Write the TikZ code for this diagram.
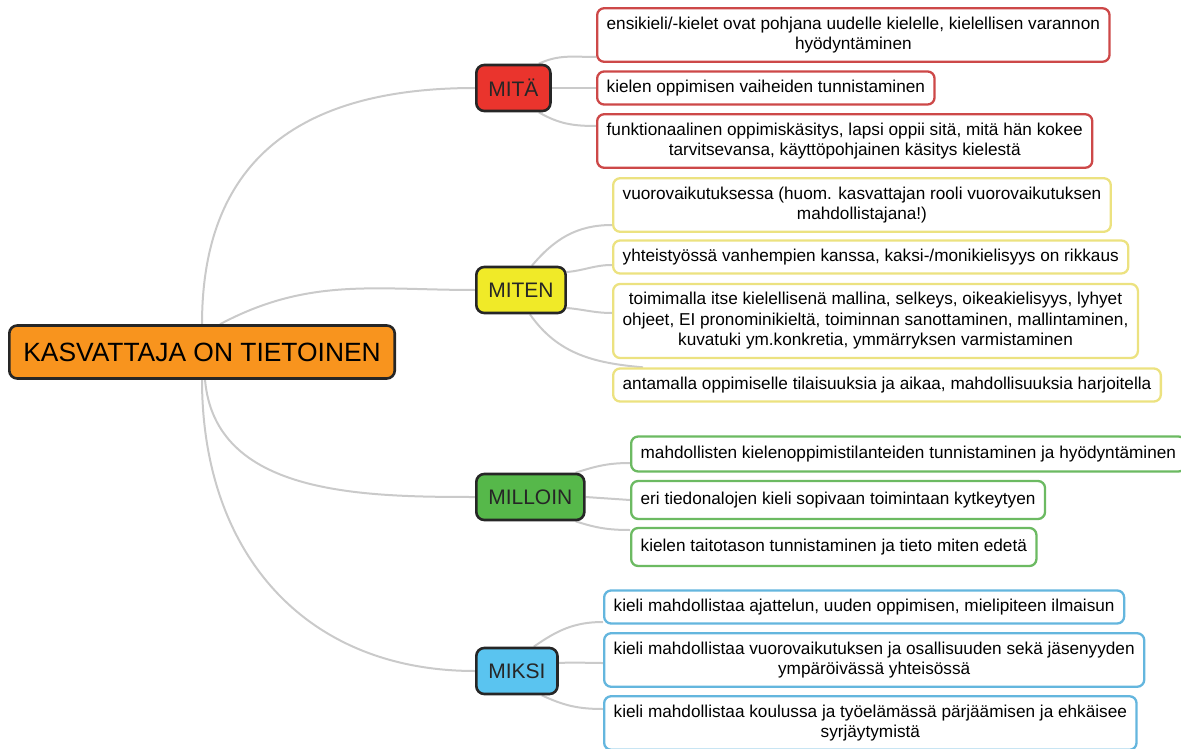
\documentclass[tikz,border=0pt]{standalone}
\usepackage{fontspec}
\setmainfont{Liberation Sans}
\usetikzlibrary{backgrounds}
\definecolor{kvorange}{RGB}{248,148,30}
\definecolor{kvred}{RGB}{234,52,45}
\definecolor{kvyellow}{RGB}{240,234,40}
\definecolor{kvgreen}{RGB}{86,184,74}
\definecolor{kvblue}{RGB}{90,196,240}
\definecolor{kvredline}{RGB}{205,72,72}
\definecolor{kvyellowline}{RGB}{236,226,128}
\definecolor{kvgreenline}{RGB}{108,186,98}
\definecolor{kvblueline}{RGB}{100,182,222}
\definecolor{kvgrey}{RGB}{202,202,202}
\tikzset{
  rootbox/.style={rectangle, rounded corners=8pt, draw=black!85, line width=2.6pt,
    fill=kvorange, minimum height=53pt, inner xsep=14pt, anchor=west,
    font=\fontsize{26.4}{30}\selectfont},
  branchbox/.style={rectangle, rounded corners=8pt, draw=black!85, line width=2.6pt,
    fill=#1, minimum height=46pt, inner xsep=12pt, anchor=west, text=black!85,
    font=\fontsize{21}{25}\selectfont},
  leafbox/.style={rectangle, rounded corners=7pt, draw=#1, line width=2.3pt,
    fill=white, inner xsep=9.5pt, inner ysep=8.5pt, align=center, anchor=west,
    font=\fontsize{17.2}{20.5}\selectfont},
  twig/.style={draw=kvgrey, line width=2pt}
}
\begin{document}
\begin{tikzpicture}[x=1pt, y=1pt]
  \useasboundingbox (0,0) rectangle (1181,-749);
  \node[rootbox] (root) at (8,-352) {KASVATTAJA ON TIETOINEN};
  \node[branchbox=kvred] (mita) at (475,-88) {MITÄ};
  \node[branchbox=kvyellow] (miten) at (475,-290) {MITEN};
  \node[branchbox=kvgreen] (milloin) at (475,-497) {MILLOIN};
  \node[branchbox=kvblue] (miksi) at (475,-671) {MIKSI};

  \node[leafbox=kvredline] (r1) at (596,-35) {ensikieli/-kielet ovat pohjana uudelle kielelle, kielellisen varannon\\ hyödyntäminen};
  \node[leafbox=kvredline] (r2) at (596,-88) {kielen oppimisen vaiheiden tunnistaminen};
  \node[leafbox=kvredline] (r3) at (596,-141) {funktionaalinen oppimiskäsitys, lapsi oppii sitä, mitä hän kokee\\ tarvitsevansa, käyttöpohjainen käsitys kielestä};

  \node[leafbox=kvyellowline] (y1) at (612,-205) {vuorovaikutuksessa (huom. kasvattajan rooli vuorovaikutuksen\\ mahdollistajana!)};
  \node[leafbox=kvyellowline] (y2) at (612,-257) {yhteistyössä vanhempien kanssa, kaksi-/monikielisyys on rikkaus};
  \node[leafbox=kvyellowline] (y3) at (612,-321) {toimimalla itse kielellisenä mallina, selkeys, oikeakielisyys, lyhyet\\ ohjeet, EI pronominikieltä, toiminnan sanottaminen, mallintaminen,\\ kuvatuki ym.konkretia, ymmärryksen varmistaminen};
  \node[leafbox=kvyellowline] (y4) at (612,-385) {antamalla oppimiselle tilaisuuksia ja aikaa, mahdollisuuksia harjoitella};

  \node[leafbox=kvgreenline, minimum height=35pt] (g1) at (630,-454) {mahdollisten kielenoppimistilanteiden tunnistaminen ja hyödyntäminen};
  \node[leafbox=kvgreenline, minimum height=38pt] (g2) at (630,-500) {eri tiedonalojen kieli sopivaan toimintaan kytkeytyen};
  \node[leafbox=kvgreenline, minimum height=38pt] (g3) at (630,-547) {kielen taitotason tunnistaminen ja tieto miten edetä};

  \node[leafbox=kvblueline] (b1) at (603,-607) {kieli mahdollistaa ajattelun, uuden oppimisen, mielipiteen ilmaisun};
  \node[leafbox=kvblueline] (b2) at (603,-660) {kieli mahdollistaa vuorovaikutuksen ja osallisuuden sekä jäsenyyden\\ ympäröivässä yhteisössä};
  \node[leafbox=kvblueline] (b3) at (603,-723) {kieli mahdollistaa koulussa ja työelämässä pärjäämisen ja ehkäisee\\ syrjäytymistä};

  \begin{scope}[on background layer]
    \draw[twig] (root.north) to[out=90, in=180, looseness=1.2] (mita.west);
    \draw[twig] ([xshift=18pt]root.north) to[out=28, in=180] (miten.west);
    \draw[twig] ([xshift=3pt]root.south) to[out=-85, in=180] (milloin.west);
    \draw[twig] (root.south) to[out=-90, in=180, looseness=1.1] (miksi.west);

    \draw[twig] ([xshift=-13pt]mita.north east) to[out=25, in=180] ([yshift=-22pt]r1.west);
    \draw[twig] (mita.east) -- (r2.west);
    \draw[twig] ([xshift=-13pt]mita.south east) to[out=-30, in=180] ([yshift=15pt]r3.west);

    \draw[twig] ([xshift=-35pt]miten.north east) to[out=50, in=180] ([yshift=-20pt]y1.west);
    \draw[twig] ([yshift=18pt]miten.east) to[out=5, in=180] ([yshift=-8pt]y2.west);
    \draw[twig] ([yshift=-18pt]miten.east) to[out=-5, in=180] ([yshift=8pt]y3.west);
    \draw[twig] ([xshift=-37pt]miten.south east) to[out=-55, in=175] ([xshift=31pt]y4.north west);

    \draw[twig] ([xshift=-10pt]milloin.north east) to[out=18, in=180] ([yshift=-9pt]g1.west);
    \draw[twig] (milloin.east) -- (g2.west);
    \draw[twig] ([xshift=-10pt]milloin.south east) to[out=-18, in=180] ([yshift=17pt]g3.west);

    \draw[twig] ([xshift=-25pt]miksi.north east) to[out=35, in=180] ([yshift=-15pt]b1.west);
    \draw[twig] ([yshift=8pt]miksi.east) to[out=3, in=180] ([yshift=-3pt]b2.west);
    \draw[twig] ([xshift=-17pt]miksi.south east) to[out=-25, in=180] ([yshift=14pt]b3.west);
  \end{scope}
\end{tikzpicture}
\end{document}
